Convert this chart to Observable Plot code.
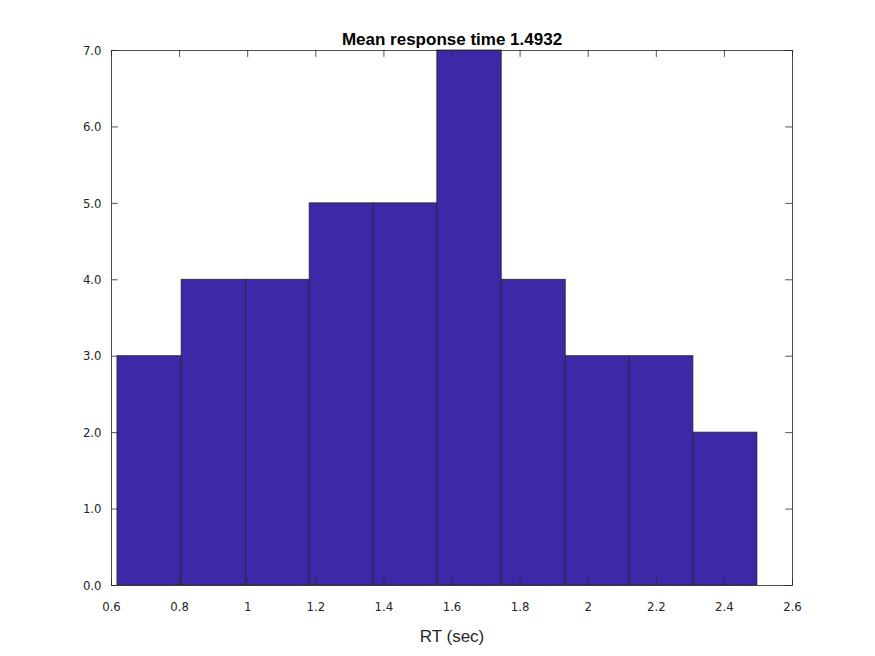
<!DOCTYPE html>
<html><head><meta charset="utf-8">
<script src="https://cdn.jsdelivr.net/npm/d3@7"></script>
<script src="https://cdn.jsdelivr.net/npm/@observablehq/plot@0.6"></script>
<style>body{margin:0;background:#fff}</style>
</head><body><div id="c"></div>
<script>
const binEdges = [0.6175,0.806,0.995,1.182,1.37,1.557,1.746,1.934,2.121,2.309,2.497];
const counts = [3,4,4,5,5,7,4,3,3,2];
const xTicks = [0.6,0.8,1,1.2,1.4,1.6,1.8,2,2.2,2.4,2.6];
const yTicks = [0,1,2,3,4,5,6,7];
const bins = counts.map((c,i)=>({x1:binEdges[i],x2:binEdges[i+1],y:c}));
const font = "DejaVu Sans Condensed, Liberation Sans, sans-serif";
const p = Plot.plot({
  width:875,height:656,marginLeft:111,marginRight:83,marginTop:50,marginBottom:71,
  style:{fontFamily:font,fontSize:"13px",color:"#262626",background:"#fff"},
  x:{domain:[0.6,2.6],ticks:xTicks,tickSize:0,tickPadding:16,label:null,tickFormat:d=>String(d)},
  y:{domain:[0,7],ticks:yTicks,tickSize:0,tickPadding:10,label:null},
  marks:[
    Plot.rectY(bins,{x1:"x1",x2:"x2",y:"y",fill:"#3d28a8",stroke:"#262626",strokeWidth:0.8}),
    Plot.frame({stroke:"#262626",strokeWidth:0.8}),
    Plot.ruleX(xTicks,{y1:0,y2:0.09,stroke:"#262626",strokeWidth:0.8}),
    Plot.ruleX(xTicks,{y1:6.91,y2:7,stroke:"#262626",strokeWidth:0.8}),
    Plot.ruleY(yTicks,{x1:0.6,x2:0.62,stroke:"#262626",strokeWidth:0.8}),
    Plot.ruleY(yTicks,{x1:2.58,x2:2.6,stroke:"#262626",strokeWidth:0.8}),
    Plot.text(["Mean response time 1.4932"],{frameAnchor:"top",dy:-18,fontWeight:"bold",fontSize:17,fill:"#000",fontFamily:"Liberation Sans, Arial, sans-serif"}),
    Plot.text(["RT (sec)"],{frameAnchor:"bottom",dy:56,fontSize:17,fill:"#262626",fontFamily:"Liberation Sans, Arial, sans-serif"})
  ]
});
document.getElementById("c").appendChild(p);
</script></body></html>
